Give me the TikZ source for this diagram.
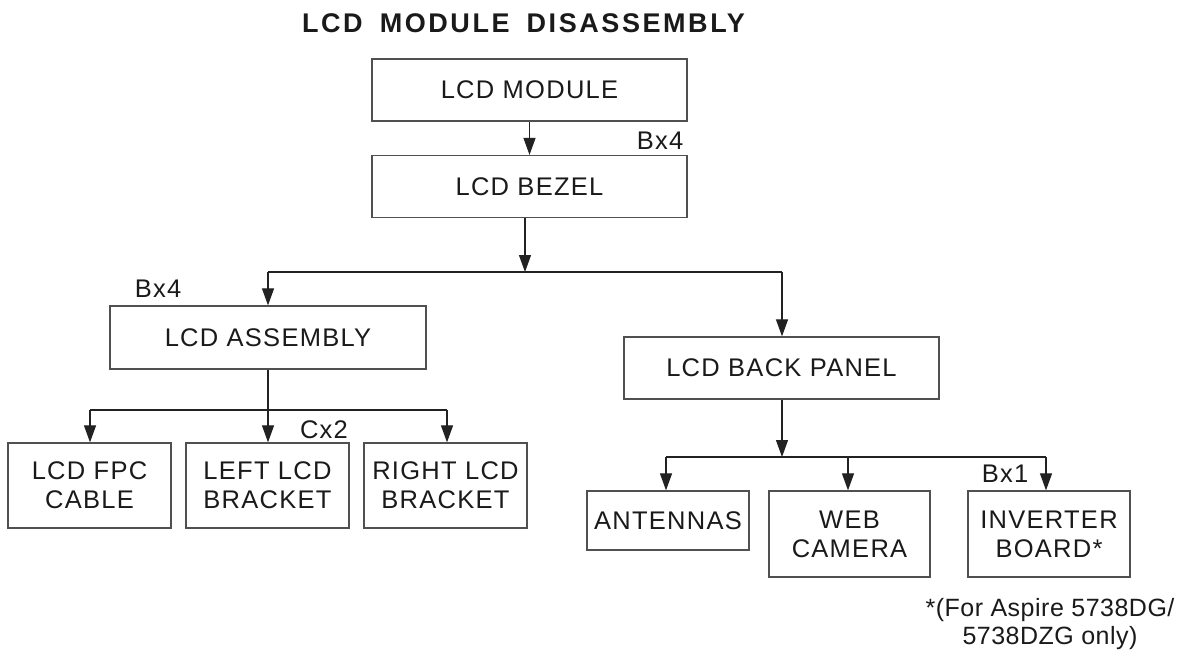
\documentclass[tikz,border=0pt]{standalone}
\usepackage{fontspec}
\setmainfont{Liberation Sans}
\newfontfamily\boxfont[LetterSpace=5]{Liberation Sans}
\newfontfamily\titlefont[LetterSpace=9.5]{Liberation Sans}
\newfontfamily\notefont[LetterSpace=2]{Liberation Sans}
\usetikzlibrary{arrows.meta}
\definecolor{txtcol}{HTML}{1A1A1A}
\definecolor{boxcol}{HTML}{505050}
\definecolor{linecol}{HTML}{222222}
\begin{document}
\begin{tikzpicture}[x=1pt,y=-1pt,
  box/.style={draw=boxcol,line width=1.3pt,inner sep=0pt,align=center,
    text=txtcol,font=\boxfont\fontsize{25.5}{29}\selectfont},
  arr/.style={draw=linecol,line width=1.2pt,-{Triangle[length=17pt,width=12pt]}},
  conn/.style={draw=linecol,line width=1.2pt},
  lbl/.style={text=txtcol,inner sep=0pt,font=\boxfont\fontsize{25.5}{29}\selectfont}]
\fill[white] (0,0) rectangle (1191,651);
\useasboundingbox (0,0) rectangle (1191,651);

\node[text=txtcol,inner sep=0pt,font=\titlefont\bfseries\fontsize{27}{30}\selectfont] (title) at (523.5,23) {LCD\hspace{7pt} MODULE\hspace{7pt} DISASSEMBLY};

\node[box,minimum width=315pt,minimum height=62pt] (module) at (529.5,90) {LCD MODULE};
\node[box,minimum width=315pt,minimum height=62pt] (bezel) at (529.5,186.5) {LCD BEZEL};
\node[box,minimum width=316pt,minimum height=63pt] (assembly) at (268,337.5) {LCD ASSEMBLY};
\node[box,minimum width=315pt,minimum height=62pt] (back) at (781.5,368) {LCD BACK PANEL};
\node[box,minimum width=163pt,minimum height=85pt] (fpc) at (89.5,485.5) {LCD FPC\\CABLE};
\node[box,minimum width=163pt,minimum height=85pt] (leftb) at (267.5,485.5) {LEFT LCD\\BRACKET};
\node[box,minimum width=163pt,minimum height=85pt] (rightb) at (445.5,485.5) {RIGHT LCD\\BRACKET};
\node[box,minimum width=162pt,minimum height=59pt] (ant) at (668,520.5) {ANTENNAS};
\node[box,minimum width=161pt,minimum height=86pt] (web) at (849.5,534) {WEB\\CAMERA};
\node[box,minimum width=162pt,minimum height=86pt] (inv) at (1049,534) {INVERTER\\BOARD*};

\node[lbl] (bx4a) at (660,141) {Bx4};
\node[lbl] (bx4b) at (158,289) {Bx4};
\node[lbl] (cx2) at (324,430) {Cx2};
\node[lbl] (bx1) at (1005,474) {Bx1};
\node[text=txtcol,inner sep=0pt,align=center,font=\notefont\fontsize{25}{28}\selectfont] (note) at (1050,624) {*(For Aspire 5738DG/\\5738DZG only)};

% module -> bezel
\draw[arr] (module.south) -- (bezel.north);
% bezel -> split
\coordinate (s1) at (525,272);
\coordinate (sL) at (268,272);
\coordinate (sR) at (782,272);
\draw[arr] (bezel.south -| s1) -- (s1);
\draw[conn] (sL) -- (sR);
\draw[arr] (sL) -- (sL |- assembly.north);
\draw[arr] (sR) -- (sR |- back.north);
% assembly split
\coordinate (aL) at (90,410);
\coordinate (aR) at (447,410);
\draw[conn] (aL) -- (aR);
\draw[arr] (assembly.south) -- (assembly.south |- leftb.north);
\draw[arr] (aL) -- (aL |- fpc.north);
\draw[arr] (aR) -- (aR |- rightb.north);
% back panel split
\coordinate (bC) at (782,457);
\coordinate (bL) at (666,457);
\coordinate (bM) at (848,457);
\coordinate (bR) at (1046,457);
\draw[arr] (back.south -| bC) -- (bC);
\draw[conn] (bL) -- (bR);
\draw[arr] (bL) -- (bL |- ant.north);
\draw[arr] (bM) -- (bM |- web.north);
\draw[arr] (bR) -- (bR |- inv.north);
\end{tikzpicture}
\end{document}
